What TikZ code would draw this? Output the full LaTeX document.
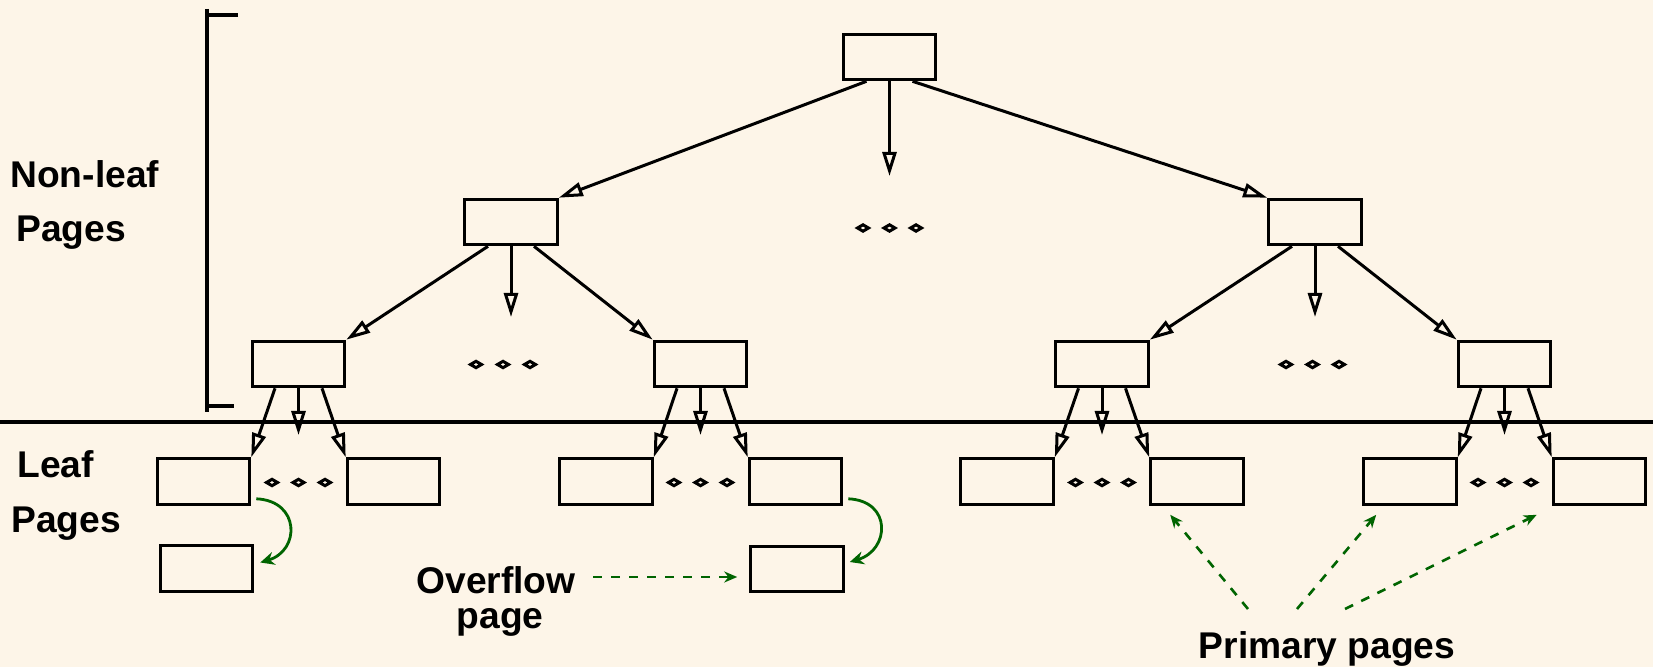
\documentclass[tikz,border=0pt]{standalone}
\usepackage{fontspec}
\setmainfont{Liberation Sans}
\usetikzlibrary{arrows.meta}
\definecolor{bg}{RGB}{253,245,232}
\definecolor{dgreen}{RGB}{0,100,0}
\begin{document}
\begin{tikzpicture}[x=0.5pt,y=-0.5pt,
  page/.style={draw, line width=1.5pt, minimum width=46.3pt, minimum height=22.8pt, inner sep=0pt},
  arr/.style={line width=1.5pt, -{Triangle[open,length=12pt,width=7pt]}},
  garr/.style={dgreen, line width=1.3pt, dash pattern=on 4.5pt off 4.5pt, -{Stealth[length=6.5pt,width=5.5pt]}},
  carr/.style={dgreen, line width=1.4pt, -{Stealth[length=7pt,width=6.5pt]}},
  lbl/.style={font=\bfseries\fontsize{18.6}{22}\selectfont, inner sep=0pt},
  rule/.style={line width=1.6pt},
  pics/dia/.style={code={\draw[line width=1.5pt] (-5.5,0)--(0,-3.2)--(5.5,0)--(0,3.2)--cycle;}}
]
\fill[bg] (0,0) rectangle (1653,667);
\useasboundingbox (0,0) rectangle (1653,667);

% bracket and separator
\draw[rule] (238,15) -- (207,15);
\draw[rule] (207,9) -- (207,412);
\draw[rule] (207,406) -- (234,406);
\draw[rule] (0,422) -- (1653,422);

% labels
\node[lbl, anchor=base west] (nl1) at (10,188) {Non-leaf};
\node[lbl, anchor=base west] (nl2) at (16,242) {Pages};
\node[lbl, anchor=base west] (lf1) at (17,478) {Leaf};
\node[lbl, anchor=base west] (lf2) at (11,532) {Pages};
\node[lbl, anchor=base] (ov1) at (496,593) {Overflow};
\node[lbl, anchor=base] (ov2) at (500,628) {page};
\node[lbl, anchor=base] (pp) at (1327,658) {Primary pages};

% non-leaf nodes
\node[page] (root) at (889.5,57) {};
\node[page] (L2a) at (511,222) {};
\node[page] (L2b) at (1315,222) {};
\node[page] (L3a) at (298.5,364) {};
\node[page] (L3b) at (700.5,364) {};
\node[page] (L3c) at (1102,364) {};
\node[page] (L3d) at (1504.5,364) {};

% leaves
\node[page] (la1) at (203.5,481.5) {};
\node[page] (la2) at (393.5,481.5) {};
\node[page] (lb1) at (606,481.5) {};
\node[page] (lb2) at (795.5,481.5) {};
\node[page] (lc1) at (1007,481.5) {};
\node[page] (lc2) at (1197,481.5) {};
\node[page] (ld1) at (1410,481.5) {};
\node[page] (ld2) at (1599.5,481.5) {};
\node[page] (ova) at (206.5,568.5) {};
\node[page] (ovb) at (797,569) {};

% free ends
\coordinate (rm) at (889.5,176);
\coordinate (am) at (511,317);
\coordinate (bm) at (1315,317);
\coordinate (m3a) at (298.5,435);
\coordinate (m3b) at (700.5,435);
\coordinate (m3c) at (1102,435);
\coordinate (m3d) at (1504.5,435);

% root arrows
\draw[arr] ([shift={(-23,0)}]root.south) -- (L2a.north east);
\draw[arr] (root.south) -- (rm);
\draw[arr] ([shift={(23,0)}]root.south) -- (L2b.north west);
% level 2 arrows
\draw[arr] ([shift={(-23,0)}]L2a.south) -- (L3a.north east);
\draw[arr] (L2a.south) -- (am);
\draw[arr] ([shift={(23,0)}]L2a.south) -- (L3b.north west);
\draw[arr] ([shift={(-23,0)}]L2b.south) -- (L3c.north east);
\draw[arr] (L2b.south) -- (bm);
\draw[arr] ([shift={(23,0)}]L2b.south) -- (L3d.north west);
% level 3 arrows
\foreach \p/\l/\r in {L3a/la1/la2, L3b/lb1/lb2, L3c/lc1/lc2, L3d/ld1/ld2}{
  \draw[arr] ([shift={(-23.5,0)}]\p.south) -- (\l.north east);
  \draw[arr] ([shift={(23.5,0)}]\p.south) -- (\r.north west);
}
\draw[arr] (L3a.south) -- (m3a);
\draw[arr] (L3b.south) -- (m3b);
\draw[arr] (L3c.south) -- (m3c);
\draw[arr] (L3d.south) -- (m3d);

% dots
\foreach \x in {863,889.5,916} \pic at (\x,228) {dia};
\foreach \x in {476,503,530} \pic at (\x,364.5) {dia};
\foreach \x in {1286,1312.5,1339} \pic at (\x,364.5) {dia};
\foreach \c in {298.5,700.5,1102,1504.5}{
  \foreach \d in {-26.5,0,26.5} \pic at (\c+\d,482.5) {dia};
}

% overflow curved arrows
\draw[carr] ([shift={(5,-7)}]la1.south east) .. controls +(44,2) and +(40,-12) .. ([shift={(6,-6)}]ova.east);
\draw[carr] ([shift={(5,-7)}]lb2.south east) .. controls +(44,2) and +(40,-12) .. ([shift={(5,-7)}]ovb.east);

% dashed annotations
\coordinate (ovs) at (593,577);
\draw[garr] (ovs) -- ([shift={(-12,8)}]ovb.west);
\coordinate (p1) at (1248,609);
\coordinate (p2) at (1297,609);
\coordinate (p3) at (1345,609);
\draw[garr] (p1) -- ([shift={(21,9)}]lc2.south west);
\draw[garr] (p2) -- ([shift={(14,9)}]ld1.south west);
\draw[garr] (p3) -- ([shift={(-15,9)}]ld2.south west);
\end{tikzpicture}
\end{document}
